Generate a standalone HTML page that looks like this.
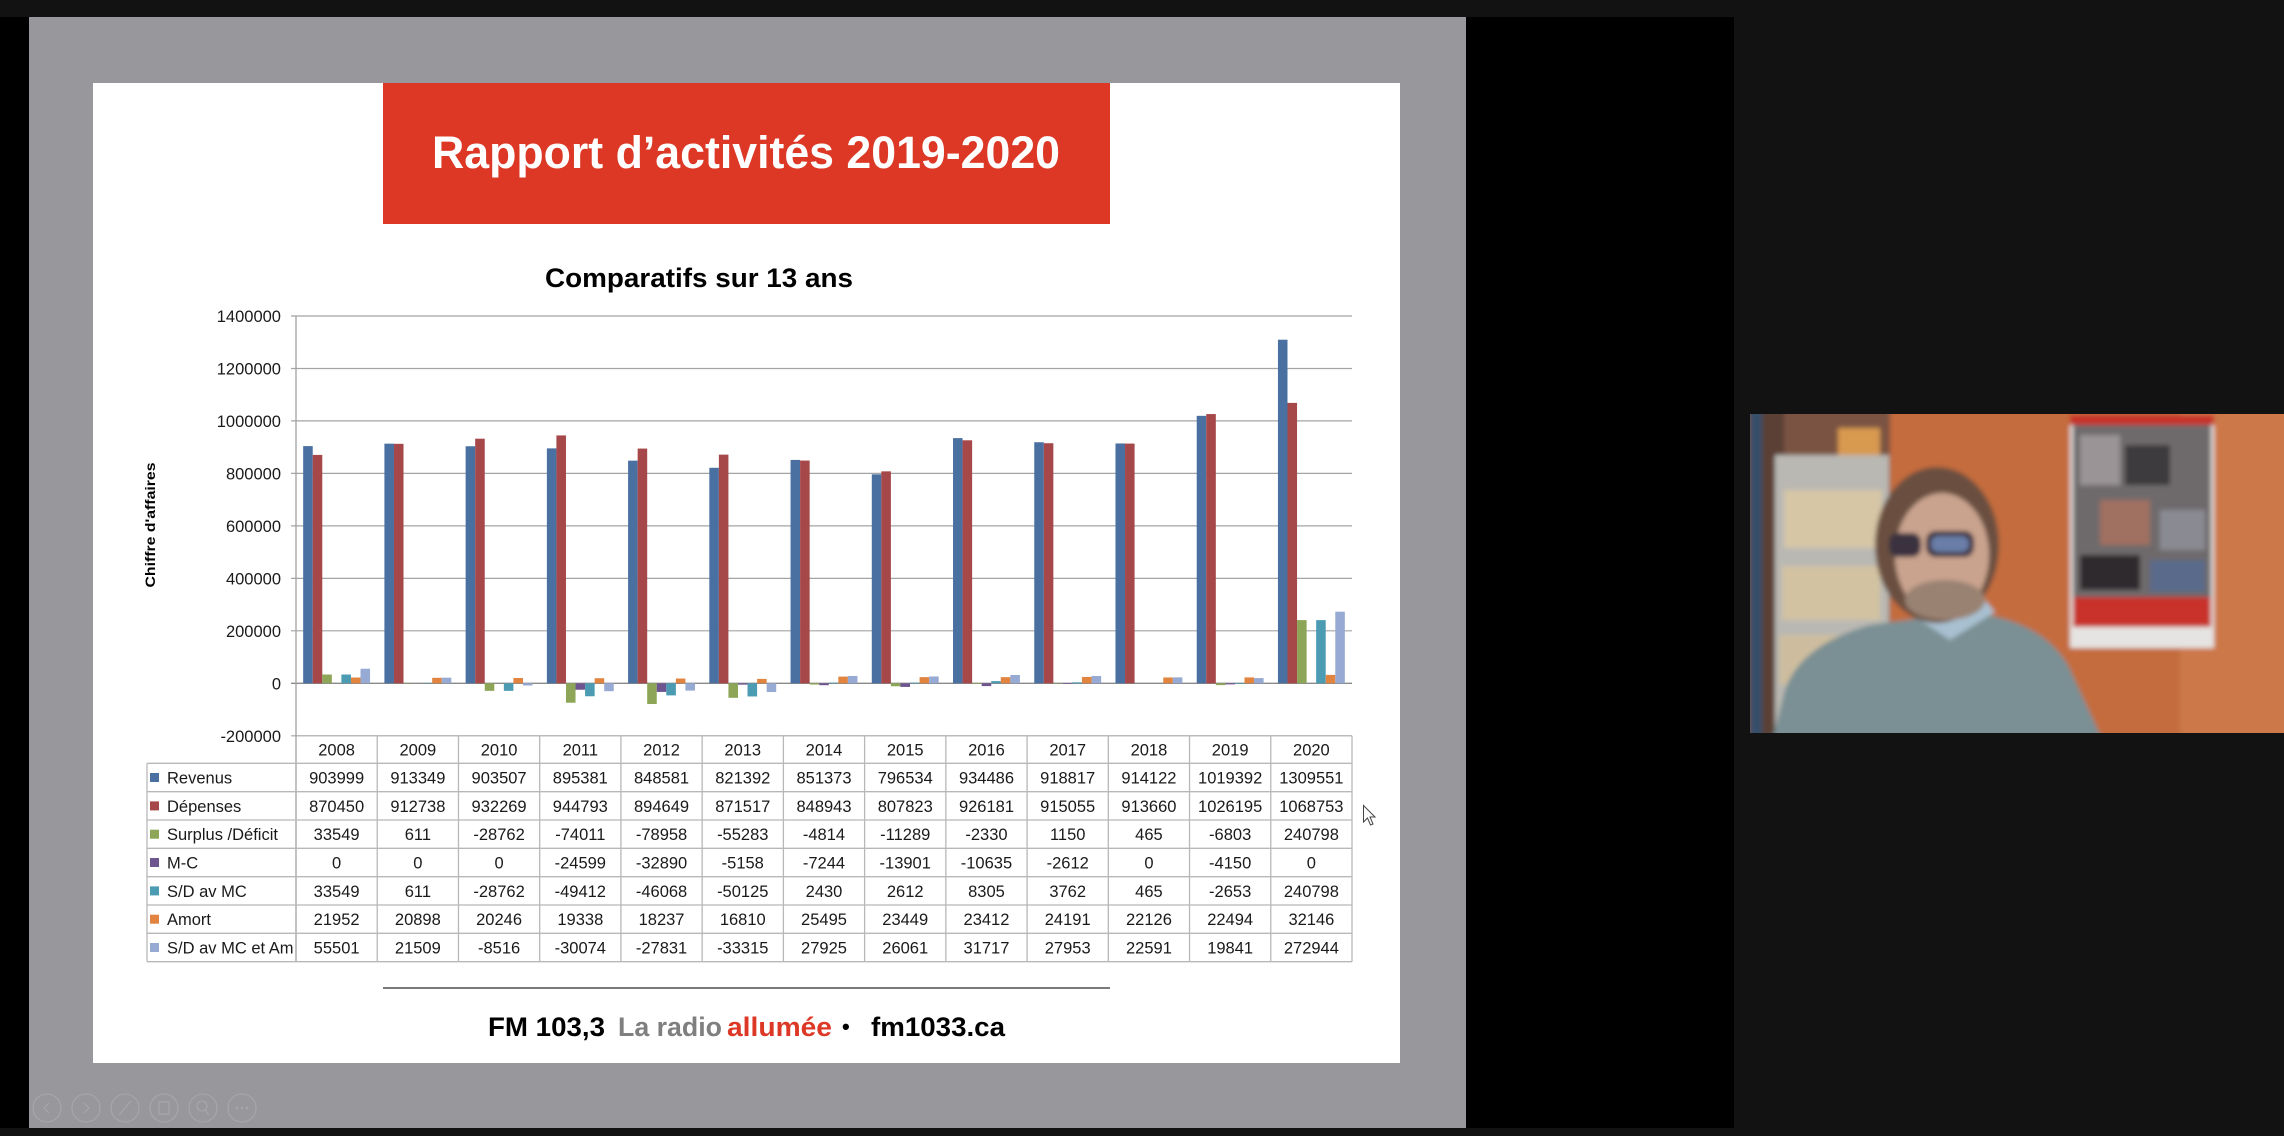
<!DOCTYPE html>
<html><head><meta charset="utf-8"><style>
html,body{margin:0;padding:0;background:#121212;}
svg{display:block;}
.t{font-family:"Liberation Sans",sans-serif;}
.b0{fill:#4a70a2}.b1{fill:#a6484a}.b2{fill:#8ca556}.b3{fill:#6e5590}.b4{fill:#4b9bb3}.b5{fill:#e0843f}.b6{fill:#97aad3}
</style></head><body>
<svg width="2284" height="1136" xmlns="http://www.w3.org/2000/svg" class="t">
<defs><filter id="bl"><feGaussianBlur stdDeviation="2.5"/></filter></defs>
<rect width="2284" height="1136" fill="#121212"/>
<rect x="0" y="17" width="29" height="1111" fill="#000"/>
<rect x="29" y="17" width="1437" height="1111" fill="#98979c"/>
<rect x="1466" y="17" width="268" height="1111" fill="#000"/>
<rect x="93" y="83" width="1307" height="980" fill="#fff"/>
<rect x="383" y="83" width="727" height="141" fill="#dc3825"/>
<text x="432" y="168" font-size="45" font-weight="bold" fill="#fff" textLength="628" lengthAdjust="spacingAndGlyphs">Rapport d’activités 2019-2020</text>
<text x="545" y="287" font-size="27" font-weight="bold" fill="#000" textLength="308" lengthAdjust="spacingAndGlyphs">Comparatifs sur 13 ans</text>

<g stroke="#a4a4a4" stroke-width="1.2">
<line x1="291" y1="316" x2="1352" y2="316"/>
<line x1="291" y1="368.5" x2="1352" y2="368.5"/>
<line x1="291" y1="420.9" x2="1352" y2="420.9"/>
<line x1="291" y1="473.4" x2="1352" y2="473.4"/>
<line x1="291" y1="525.9" x2="1352" y2="525.9"/>
<line x1="291" y1="578.4" x2="1352" y2="578.4"/>
<line x1="291" y1="630.8" x2="1352" y2="630.8"/>
<line x1="291" y1="735.8" x2="1352" y2="735.8"/>
</g>
<line x1="291" y1="683.3" x2="1352" y2="683.3" stroke="#8a8a8a" stroke-width="1.3"/>
<line x1="296" y1="316" x2="296" y2="962" stroke="#a0a0a0" stroke-width="1.3"/>

<g font-size="16.5" fill="#1a1a1a" text-anchor="end">
<text x="281" y="322">1400000</text>
<text x="281" y="374.5">1200000</text>
<text x="281" y="426.9">1000000</text>
<text x="281" y="479.4">800000</text>
<text x="281" y="531.9">600000</text>
<text x="281" y="584.4">400000</text>
<text x="281" y="636.8">200000</text>
<text x="281" y="689.3">0</text>
<text x="281" y="741.8">-200000</text>
</g>
<text transform="translate(155,525) rotate(-90)" text-anchor="middle" font-size="14" font-weight="bold" fill="#000" textLength="125" lengthAdjust="spacingAndGlyphs">Chiffre d'affaires</text>

<g transform="translate(296,683.3)">
<rect class="b0" x="7.17" y="-237.19" width="9.56" height="237.19"/><rect class="b1" x="16.72" y="-228.39" width="9.56" height="228.39"/><rect class="b2" x="26.28" y="-8.8" width="9.56" height="8.8"/><rect class="b4" x="45.39" y="-8.8" width="9.56" height="8.8"/><rect class="b5" x="54.95" y="-5.76" width="9.56" height="5.76"/><rect class="b6" x="64.51" y="-14.56" width="9.56" height="14.56"/>
</g>
<g transform="translate(377.23,683.3)">
<rect class="b0" x="7.17" y="-239.64" width="9.56" height="239.64"/><rect class="b1" x="16.72" y="-239.48" width="9.56" height="239.48"/><rect class="b2" x="26.28" y="-0.3" width="9.56" height="0.3"/><rect class="b4" x="45.39" y="-0.3" width="9.56" height="0.3"/><rect class="b5" x="54.95" y="-5.48" width="9.56" height="5.48"/><rect class="b6" x="64.51" y="-5.64" width="9.56" height="5.64"/>
</g>
<g transform="translate(458.46,683.3)">
<rect class="b0" x="7.17" y="-237.06" width="9.56" height="237.06"/><rect class="b1" x="16.72" y="-244.6" width="9.56" height="244.6"/><rect class="b2" x="26.28" y="0" width="9.56" height="7.55"/><rect class="b4" x="45.39" y="0" width="9.56" height="7.55"/><rect class="b5" x="54.95" y="-5.31" width="9.56" height="5.31"/><rect class="b6" x="64.51" y="0" width="9.56" height="2.23"/>
</g>
<g transform="translate(539.69,683.3)">
<rect class="b0" x="7.17" y="-234.92" width="9.56" height="234.92"/><rect class="b1" x="16.72" y="-247.89" width="9.56" height="247.89"/><rect class="b2" x="26.28" y="0" width="9.56" height="19.42"/><rect class="b3" x="35.84" y="0" width="9.56" height="6.45"/><rect class="b4" x="45.39" y="0" width="9.56" height="12.96"/><rect class="b5" x="54.95" y="-5.07" width="9.56" height="5.07"/><rect class="b6" x="64.51" y="0" width="9.56" height="7.89"/>
</g>
<g transform="translate(620.92,683.3)">
<rect class="b0" x="7.17" y="-222.65" width="9.56" height="222.65"/><rect class="b1" x="16.72" y="-234.73" width="9.56" height="234.73"/><rect class="b2" x="26.28" y="0" width="9.56" height="20.72"/><rect class="b3" x="35.84" y="0" width="9.56" height="8.63"/><rect class="b4" x="45.39" y="0" width="9.56" height="12.09"/><rect class="b5" x="54.95" y="-4.78" width="9.56" height="4.78"/><rect class="b6" x="64.51" y="0" width="9.56" height="7.3"/>
</g>
<g transform="translate(702.15,683.3)">
<rect class="b0" x="7.17" y="-215.51" width="9.56" height="215.51"/><rect class="b1" x="16.72" y="-228.67" width="9.56" height="228.67"/><rect class="b2" x="26.28" y="0" width="9.56" height="14.5"/><rect class="b3" x="35.84" y="0" width="9.56" height="1.35"/><rect class="b4" x="45.39" y="0" width="9.56" height="13.15"/><rect class="b5" x="54.95" y="-4.41" width="9.56" height="4.41"/><rect class="b6" x="64.51" y="0" width="9.56" height="8.74"/>
</g>
<g transform="translate(783.38,683.3)">
<rect class="b0" x="7.17" y="-223.38" width="9.56" height="223.38"/><rect class="b1" x="16.72" y="-222.74" width="9.56" height="222.74"/><rect class="b2" x="26.28" y="0" width="9.56" height="1.26"/><rect class="b3" x="35.84" y="0" width="9.56" height="1.9"/><rect class="b4" x="45.39" y="-0.64" width="9.56" height="0.64"/><rect class="b5" x="54.95" y="-6.69" width="9.56" height="6.69"/><rect class="b6" x="64.51" y="-7.33" width="9.56" height="7.33"/>
</g>
<g transform="translate(864.62,683.3)">
<rect class="b0" x="7.17" y="-208.99" width="9.56" height="208.99"/><rect class="b1" x="16.72" y="-211.95" width="9.56" height="211.95"/><rect class="b2" x="26.28" y="0" width="9.56" height="2.96"/><rect class="b3" x="35.84" y="0" width="9.56" height="3.65"/><rect class="b4" x="45.39" y="-0.69" width="9.56" height="0.69"/><rect class="b5" x="54.95" y="-6.15" width="9.56" height="6.15"/><rect class="b6" x="64.51" y="-6.84" width="9.56" height="6.84"/>
</g>
<g transform="translate(945.85,683.3)">
<rect class="b0" x="7.17" y="-245.19" width="9.56" height="245.19"/><rect class="b1" x="16.72" y="-243.01" width="9.56" height="243.01"/><rect class="b2" x="26.28" y="0" width="9.56" height="0.61"/><rect class="b3" x="35.84" y="0" width="9.56" height="2.79"/><rect class="b4" x="45.39" y="-2.18" width="9.56" height="2.18"/><rect class="b5" x="54.95" y="-6.14" width="9.56" height="6.14"/><rect class="b6" x="64.51" y="-8.32" width="9.56" height="8.32"/>
</g>
<g transform="translate(1027.08,683.3)">
<rect class="b0" x="7.17" y="-241.07" width="9.56" height="241.07"/><rect class="b1" x="16.72" y="-240.09" width="9.56" height="240.09"/><rect class="b2" x="26.28" y="-0.3" width="9.56" height="0.3"/><rect class="b3" x="35.84" y="0" width="9.56" height="0.69"/><rect class="b4" x="45.39" y="-0.99" width="9.56" height="0.99"/><rect class="b5" x="54.95" y="-6.35" width="9.56" height="6.35"/><rect class="b6" x="64.51" y="-7.33" width="9.56" height="7.33"/>
</g>
<g transform="translate(1108.31,683.3)">
<rect class="b0" x="7.17" y="-239.84" width="9.56" height="239.84"/><rect class="b1" x="16.72" y="-239.72" width="9.56" height="239.72"/><rect class="b5" x="54.95" y="-5.81" width="9.56" height="5.81"/><rect class="b6" x="64.51" y="-5.93" width="9.56" height="5.93"/>
</g>
<g transform="translate(1189.54,683.3)">
<rect class="b0" x="7.17" y="-267.46" width="9.56" height="267.46"/><rect class="b1" x="16.72" y="-269.25" width="9.56" height="269.25"/><rect class="b2" x="26.28" y="0" width="9.56" height="1.78"/><rect class="b3" x="35.84" y="0" width="9.56" height="1.09"/><rect class="b4" x="45.39" y="0" width="9.56" height="0.7"/><rect class="b5" x="54.95" y="-5.9" width="9.56" height="5.9"/><rect class="b6" x="64.51" y="-5.21" width="9.56" height="5.21"/>
</g>
<g transform="translate(1270.77,683.3)">
<rect class="b0" x="7.17" y="-343.59" width="9.56" height="343.59"/><rect class="b1" x="16.72" y="-280.41" width="9.56" height="280.41"/><rect class="b2" x="26.28" y="-63.18" width="9.56" height="63.18"/><rect class="b4" x="45.39" y="-63.18" width="9.56" height="63.18"/><rect class="b5" x="54.95" y="-8.43" width="9.56" height="8.43"/><rect class="b6" x="64.51" y="-71.61" width="9.56" height="71.61"/>
</g>

<g stroke="#b8b8b8" stroke-width="1.3">
<line x1="147" y1="763.3" x2="1352" y2="763.3"/>
<line x1="147" y1="791.7" x2="1352" y2="791.7"/>
<line x1="147" y1="820" x2="1352" y2="820"/>
<line x1="147" y1="848.3" x2="1352" y2="848.3"/>
<line x1="147" y1="876.7" x2="1352" y2="876.7"/>
<line x1="147" y1="905" x2="1352" y2="905"/>
<line x1="147" y1="933.3" x2="1352" y2="933.3"/>
<line x1="147" y1="961.7" x2="1352" y2="961.7"/>
<line x1="147" y1="763.3" x2="147" y2="961.7"/>
<line x1="377.23" y1="735.8" x2="377.23" y2="961.7"/>
<line x1="458.46" y1="735.8" x2="458.46" y2="961.7"/>
<line x1="539.69" y1="735.8" x2="539.69" y2="961.7"/>
<line x1="620.92" y1="735.8" x2="620.92" y2="961.7"/>
<line x1="702.15" y1="735.8" x2="702.15" y2="961.7"/>
<line x1="783.38" y1="735.8" x2="783.38" y2="961.7"/>
<line x1="864.62" y1="735.8" x2="864.62" y2="961.7"/>
<line x1="945.85" y1="735.8" x2="945.85" y2="961.7"/>
<line x1="1027.08" y1="735.8" x2="1027.08" y2="961.7"/>
<line x1="1108.31" y1="735.8" x2="1108.31" y2="961.7"/>
<line x1="1189.54" y1="735.8" x2="1189.54" y2="961.7"/>
<line x1="1270.77" y1="735.8" x2="1270.77" y2="961.7"/>
<line x1="1352" y1="735.8" x2="1352" y2="961.7"/>
</g>

<rect class="b0" x="150" y="773" width="9" height="9"/>
<rect class="b1" x="150" y="801.4" width="9" height="9"/>
<rect class="b2" x="150" y="829.7" width="9" height="9"/>
<rect class="b3" x="150" y="858" width="9" height="9"/>
<rect class="b4" x="150" y="886.4" width="9" height="9"/>
<rect class="b5" x="150" y="914.7" width="9" height="9"/>
<rect class="b6" x="150" y="943" width="9" height="9"/>
<g font-size="16.5" fill="#1a1a1a">
<text x="167" y="783.5">Revenus</text>
<text x="167" y="811.9">Dépenses</text>
<text x="167" y="840.2">Surplus /Déficit</text>
<text x="167" y="868.5">M-C</text>
<text x="167" y="896.9">S/D av MC</text>
<text x="167" y="925.2">Amort</text>
<text x="167" y="953.5">S/D av MC et Am</text>
</g>
<g font-size="16.5" fill="#1a1a1a" text-anchor="middle">
<text y="755.5"><tspan x="336.62">2008</tspan><tspan x="417.85">2009</tspan><tspan x="499.08">2010</tspan><tspan x="580.31">2011</tspan><tspan x="661.54">2012</tspan><tspan x="742.77">2013</tspan><tspan x="824">2014</tspan><tspan x="905.24">2015</tspan><tspan x="986.47">2016</tspan><tspan x="1067.7">2017</tspan><tspan x="1148.93">2018</tspan><tspan x="1230.16">2019</tspan><tspan x="1311.39">2020</tspan></text>
<text y="783.5"><tspan x="336.62">903999</tspan><tspan x="417.85">913349</tspan><tspan x="499.08">903507</tspan><tspan x="580.31">895381</tspan><tspan x="661.54">848581</tspan><tspan x="742.77">821392</tspan><tspan x="824">851373</tspan><tspan x="905.24">796534</tspan><tspan x="986.47">934486</tspan><tspan x="1067.7">918817</tspan><tspan x="1148.93">914122</tspan><tspan x="1230.16">1019392</tspan><tspan x="1311.39">1309551</tspan></text>
<text y="811.9"><tspan x="336.62">870450</tspan><tspan x="417.85">912738</tspan><tspan x="499.08">932269</tspan><tspan x="580.31">944793</tspan><tspan x="661.54">894649</tspan><tspan x="742.77">871517</tspan><tspan x="824">848943</tspan><tspan x="905.24">807823</tspan><tspan x="986.47">926181</tspan><tspan x="1067.7">915055</tspan><tspan x="1148.93">913660</tspan><tspan x="1230.16">1026195</tspan><tspan x="1311.39">1068753</tspan></text>
<text y="840.2"><tspan x="336.62">33549</tspan><tspan x="417.85">611</tspan><tspan x="499.08">-28762</tspan><tspan x="580.31">-74011</tspan><tspan x="661.54">-78958</tspan><tspan x="742.77">-55283</tspan><tspan x="824">-4814</tspan><tspan x="905.24">-11289</tspan><tspan x="986.47">-2330</tspan><tspan x="1067.7">1150</tspan><tspan x="1148.93">465</tspan><tspan x="1230.16">-6803</tspan><tspan x="1311.39">240798</tspan></text>
<text y="868.5"><tspan x="336.62">0</tspan><tspan x="417.85">0</tspan><tspan x="499.08">0</tspan><tspan x="580.31">-24599</tspan><tspan x="661.54">-32890</tspan><tspan x="742.77">-5158</tspan><tspan x="824">-7244</tspan><tspan x="905.24">-13901</tspan><tspan x="986.47">-10635</tspan><tspan x="1067.7">-2612</tspan><tspan x="1148.93">0</tspan><tspan x="1230.16">-4150</tspan><tspan x="1311.39">0</tspan></text>
<text y="896.9"><tspan x="336.62">33549</tspan><tspan x="417.85">611</tspan><tspan x="499.08">-28762</tspan><tspan x="580.31">-49412</tspan><tspan x="661.54">-46068</tspan><tspan x="742.77">-50125</tspan><tspan x="824">2430</tspan><tspan x="905.24">2612</tspan><tspan x="986.47">8305</tspan><tspan x="1067.7">3762</tspan><tspan x="1148.93">465</tspan><tspan x="1230.16">-2653</tspan><tspan x="1311.39">240798</tspan></text>
<text y="925.2"><tspan x="336.62">21952</tspan><tspan x="417.85">20898</tspan><tspan x="499.08">20246</tspan><tspan x="580.31">19338</tspan><tspan x="661.54">18237</tspan><tspan x="742.77">16810</tspan><tspan x="824">25495</tspan><tspan x="905.24">23449</tspan><tspan x="986.47">23412</tspan><tspan x="1067.7">24191</tspan><tspan x="1148.93">22126</tspan><tspan x="1230.16">22494</tspan><tspan x="1311.39">32146</tspan></text>
<text y="953.5"><tspan x="336.62">55501</tspan><tspan x="417.85">21509</tspan><tspan x="499.08">-8516</tspan><tspan x="580.31">-30074</tspan><tspan x="661.54">-27831</tspan><tspan x="742.77">-33315</tspan><tspan x="824">27925</tspan><tspan x="905.24">26061</tspan><tspan x="986.47">31717</tspan><tspan x="1067.7">27953</tspan><tspan x="1148.93">22591</tspan><tspan x="1230.16">19841</tspan><tspan x="1311.39">272944</tspan></text>
</g>

<path d="M1363.5,805.5 L1363.5,822 L1367.5,818 L1370.5,825 L1373,824 L1370,817 L1375,817 Z" fill="#fff" stroke="#444" stroke-width="1"/>

<line x1="383" y1="988" x2="1110" y2="988" stroke="#7a7a7a" stroke-width="2"/>
<g font-size="27" font-weight="bold">
<text x="488" y="1036" fill="#000" textLength="117" lengthAdjust="spacingAndGlyphs">FM 103,3</text>
<text x="618" y="1036" fill="#7f7f7f" textLength="104" lengthAdjust="spacingAndGlyphs">La radio</text>
<text x="727" y="1036" fill="#dd3826" textLength="105" lengthAdjust="spacingAndGlyphs">allumée</text>
<text x="842" y="1034" fill="#000" font-size="22">•</text>
<text x="871" y="1036" fill="#000" textLength="134" lengthAdjust="spacingAndGlyphs">fm1033.ca</text>
</g>

<g fill="none" stroke="#a8a7ac" stroke-width="1.1">
<circle cx="47" cy="1108" r="14"/><circle cx="86" cy="1108" r="14"/><circle cx="125" cy="1108" r="14"/><circle cx="164" cy="1108" r="14"/><circle cx="203" cy="1108" r="14"/><circle cx="242" cy="1108" r="14"/>
<path d="M49,1103 L44,1108 L49,1113"/><path d="M84,1103 L89,1108 L84,1113"/><path d="M119,1115 L131,1101"/><rect x="159" y="1102" width="10" height="12"/><circle cx="202" cy="1106" r="5"/><path d="M205,1110 L209,1115"/>
</g>
<g fill="#a8a7ac"><circle cx="237" cy="1108" r="1.3"/><circle cx="242" cy="1108" r="1.3"/><circle cx="247" cy="1108" r="1.3"/></g>

<svg x="1750" y="414" width="534" height="319" viewBox="1750 414 534 319">
<g filter="url(#bl)">
<rect x="1740" y="404" width="560" height="340" fill="#c46c3c"/>
<rect x="2180" y="404" width="120" height="340" fill="#cc7848"/>
<rect x="1740" y="404" width="150" height="340" fill="#7a5242"/>
<rect x="1750" y="404" width="12" height="340" fill="#34506a"/>
<rect x="1762" y="404" width="22" height="340" fill="#5a4035"/>
<rect x="1838" y="428" width="42" height="34" fill="#d89a50"/>
<rect x="1775" y="455" width="114" height="290" fill="#b9b8b2"/>
<rect x="1784" y="490" width="98" height="58" fill="#d6c6a6"/>
<rect x="1782" y="566" width="98" height="54" fill="#d2c2a2"/>
<rect x="1780" y="635" width="96" height="50" fill="#cdbd9e"/>
<rect x="2070" y="415" width="144" height="233" fill="#e6e4e2"/>
<rect x="2070" y="415" width="144" height="10" fill="#c8302a"/>
<rect x="2073" y="425" width="138" height="172" fill="#6e6a6c"/>
<rect x="2080" y="435" width="40" height="50" fill="#9a9496"/>
<rect x="2125" y="445" width="45" height="40" fill="#3e3a3e"/>
<rect x="2100" y="500" width="50" height="45" fill="#a07060"/>
<rect x="2160" y="510" width="45" height="40" fill="#8a8a92"/>
<rect x="2080" y="555" width="60" height="35" fill="#2e2a2e"/>
<rect x="2150" y="560" width="55" height="32" fill="#5a6a8a"/>
<rect x="2073" y="597" width="138" height="30" fill="#c8302a"/>
<path d="M1771,745 L1785,690 Q1800,645 1870,625 L1965,612 Q2040,618 2068,665 L2105,745 Z" fill="#7a9094"/>
<path d="M1905,610 L1950,640 L1995,612 L1985,600 L1915,600 Z" fill="#a8c0d0"/>
<ellipse cx="1937" cy="545" rx="62" ry="78" fill="#6a5040"/>
<ellipse cx="1942" cy="555" rx="47" ry="62" fill="#c9a38e"/>
<ellipse cx="1945" cy="600" rx="40" ry="20" fill="#9a8272"/>
<rect x="1889" y="533" width="32" height="24" rx="9" fill="#3a3040"/>
<rect x="1926" y="531" width="48" height="26" rx="10" fill="#3a3040"/>
<rect x="1931" y="536" width="38" height="16" rx="7" fill="#6a7ea8"/>
</g>
</svg>
</svg>
</body></html>
